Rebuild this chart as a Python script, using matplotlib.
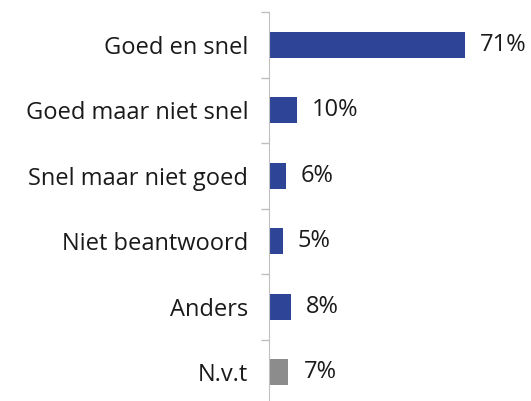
import numpy as np
import matplotlib.pyplot as plt

categories = ["Goed en snel", "Goed maar niet snel", "Snel maar niet goed",
              "Niet beantwoord", "Anders", "N.v.t"]
values = [71, 10, 6, 5, 8, 7]
labels = ["71%", "10%", "6%", "5%", "8%", "7%"]
colors = ["#2e4496"] * 5 + ["#8c8c8c"]

plt.rcParams['font.family'] = ['Open Sans', 'DejaVu Sans']

fig = plt.figure(figsize=(5.31, 4.01), dpi=100)
ax = fig.add_axes([269 / 531, -0.01, 1 - 269 / 531, 0.98])

y = np.arange(len(categories))
ax.barh(y, values, height=0.4, color=colors)
for yi, v, lab in zip(y, values, labels):
    ax.text(v + 5.5, yi, lab, va="center", ha="left", fontsize=17, color="#1a1a1a")

ax.set_xlim(0, 95)
ax.set_ylim(len(categories) - 0.5, -0.5)
ax.set_yticks(y)
ax.set_yticklabels(categories, fontsize=17, color="#1a1a1a")
ax.tick_params(axis="y", which="major", length=0, pad=15)
ax.set_yticks(np.arange(-0.5, len(categories), 1), minor=True)
ax.tick_params(axis="y", which="minor", length=6, color="#bfbfbf", width=1)
ax.set_xticks([])
for s in ["top", "right", "bottom"]:
    ax.spines[s].set_visible(False)
ax.spines["left"].set_color("#bfbfbf")

fig.savefig("out.png", dpi=100)
